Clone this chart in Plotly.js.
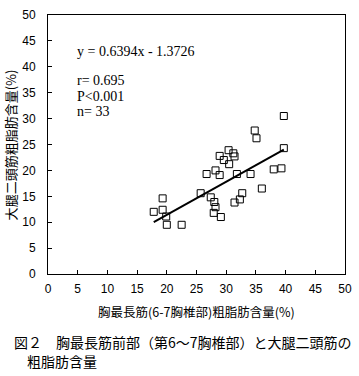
<!DOCTYPE html>
<html>
<head>
<meta charset="utf-8">
<script src="https://cdn.plot.ly/plotly-3.0.1.min.js"></script>
<style>html,body{margin:0;padding:0;background:#fff;}#chart{width:359px;height:376px;}</style>
</head>
<body>
<div id="chart"></div>
<script>
// Data: x = 胸最長筋(6-7胸椎部)粗脂肪含量(%), y = 大腿二頭筋粗脂肪含量(%)
const xVals = [17.8, 19.3, 19.3, 19.9, 20.0, 22.5, 25.7, 26.7, 27.4, 28.0, 28.2, 27.9, 29.1,
               28.2, 28.9, 28.9, 29.6, 30.4, 30.5, 31.2, 31.4, 31.8, 34.1, 31.4, 32.3, 32.7,
               36.0, 38.0, 39.3, 39.7, 34.8, 35.1, 39.7];
const yVals = [12.0, 14.6, 12.4, 11.1, 9.5, 9.5, 15.6, 19.3, 14.8, 13.9, 12.9, 11.8, 11.0,
               20.0, 19.1, 22.8, 22.0, 23.9, 21.2, 23.3, 22.7, 19.3, 19.3, 13.8, 14.4, 15.6,
               16.5, 20.2, 20.4, 24.3, 27.7, 26.2, 30.5];
// Regression: y = slope * x + intercept, drawn over the data range
const slope = 0.6394;
const intercept = -1.3726;
const fitRange = [17.8, 39.7];
const statsLines = ["y = 0.6394x - 1.3726", "r= 0.695", "P<0.001", "n= 33"];
const tickVals = [0, 5, 10, 15, 20, 25, 30, 35, 40, 45, 50];
const xTitle = "胸最長筋(6-7胸椎部)粗脂肪含量(%)";
const yTitle = "大腿二頭筋粗脂肪含量(%)";
const captionLines = ["図２　胸最長筋前部（第6～7胸椎部）と大腿二頭筋の", "粗脂肪含量"];

const fitY = fitRange.map(x => slope * x + intercept);

const cjk = '"Noto Sans CJK JP", "Noto Sans CJK SC", sans-serif';
const traces = [
  {
    x: xVals, y: yVals, type: 'scatter', mode: 'markers',
    marker: {symbol: 'square-open', size: 7, color: '#000', line: {width: 1, color: '#000'}},
    hoverinfo: 'skip'
  },
  {
    x: fitRange, y: fitY, type: 'scatter', mode: 'lines',
    line: {color: '#000', width: 2}, hoverinfo: 'skip'
  }
];

const statsY = [42.9, 37.45, 34.2, 31.3];
const annotations = statsLines.map((t, i) => ({
  text: t, x: 4.55, y: statsY[i], xref: 'x', yref: 'y',
  xanchor: 'left', yanchor: 'middle', showarrow: false,
  font: {family: '"Liberation Serif", "Times New Roman", serif', size: 14, color: '#000'}
}));
// axis titles
annotations.push({
  text: xTitle, xref: 'paper', yref: 'paper', x: 0.5, y: -0.143,
  xanchor: 'center', yanchor: 'middle', showarrow: false,
  font: {family: cjk, size: 12.5, color: '#000'}
});
annotations.push({
  text: yTitle, xref: 'paper', yref: 'paper', x: -0.125, y: 0.5, textangle: -90,
  xanchor: 'center', yanchor: 'middle', showarrow: false,
  font: {family: cjk, size: 13, color: '#000'}
});
// caption
annotations.push({
  text: captionLines[0], xref: 'paper', yref: 'paper', x: -0.121, y: -0.2625,
  xanchor: 'left', yanchor: 'middle', showarrow: false,
  font: {family: cjk, size: 14, color: '#000'}
});
annotations.push({
  text: captionLines[1], xref: 'paper', yref: 'paper', x: -0.0774, y: -0.336,
  xanchor: 'left', yanchor: 'middle', showarrow: false,
  font: {family: cjk, size: 14, color: '#000'}
});

const axisCommon = {
  range: [0, 50], tickvals: tickVals,
  ticks: 'inside', ticklen: 4, tickcolor: '#000', tickwidth: 1,
  showgrid: false, zeroline: false, showline: true, linecolor: '#000', linewidth: 1, mirror: true,
  tickfont: {size: 12, color: '#000'}, fixedrange: true
};

const layout = {
  width: 359, height: 376,
  margin: {l: 48, r: 14, t: 15, b: 102},
  paper_bgcolor: '#fff', plot_bgcolor: '#fff',
  showlegend: false,
  font: {family: '"Liberation Sans", Arial, sans-serif', size: 12, color: '#000'},
  xaxis: Object.assign({}, axisCommon, {ticklabelstandoff: 4}),
  yaxis: Object.assign({}, axisCommon, {ticklabelstandoff: 9}),
  annotations: annotations
};

Plotly.newPlot('chart', traces, layout, {displayModeBar: false, staticPlot: true});
</script>
</body>
</html>
